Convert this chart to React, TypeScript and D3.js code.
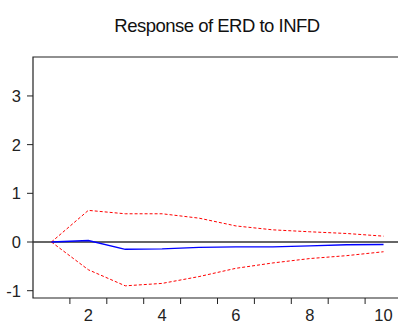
import { useEffect, useRef } from "react";
import * as d3 from "d3";

// periods and impulse response values
const periods = [1, 2, 3, 4, 5, 6, 7, 8, 9, 10];
const response = [0, 0.03, -0.15, -0.14, -0.11, -0.1, -0.1, -0.08, -0.055, -0.05];
const upperBand = [0, 0.65, 0.58, 0.58, 0.49, 0.33, 0.25, 0.21, 0.175, 0.12];
const lowerBand = [0, -0.57, -0.9, -0.85, -0.71, -0.54, -0.43, -0.34, -0.28, -0.2];
const yTicks = [-1, 0, 1, 2, 3];
const xLabels = [2, 4, 6, 8, 10];

const Width = 398;
const Height = 324;

export default function App() {
  const svgRef = useRef(null);

  useEffect(() => {
    const svg = d3.select(svgRef.current);
    svg.selectAll("*").remove();

    const left = 33;
    const top = 57;
    const bottom = 298;
    const bandW = 36.9;

    const xScale = d3
      .scaleBand()
      .domain(periods.map(String))
      .range([left, left + bandW * periods.length]);
    const xc = (p) => xScale(String(p)) + xScale.bandwidth() / 2;

    const yScale = d3.scaleLinear().domain([-1.15, 3.8]).range([bottom, top]);

    const font = "'Liberation Sans', Arial, sans-serif";

    // title
    svg
      .append("text")
      .attr("x", 217)
      .attr("y", 32)
      .attr("text-anchor", "middle")
      .attr("font-family", font)
      .attr("font-size", 18.5)
      .attr("fill", "#111")
      .attr("letter-spacing", -0.5)
      .text("Response of ERD to INFD");

    // frame (top + left), right side is cut off
    svg
      .append("path")
      .attr("d", `M${Width},${top}H${left}V${bottom}H${Width}`)
      .attr("fill", "none")
      .attr("stroke", "#222")
      .attr("stroke-width", 1.2);

    // y axis
    const yAxis = svg.append("g").attr("transform", `translate(${left},0)`);
    yAxis
      .selectAll("line")
      .data(yTicks)
      .join("line")
      .attr("x1", -6)
      .attr("x2", 0)
      .attr("y1", (d) => yScale(d))
      .attr("y2", (d) => yScale(d))
      .attr("stroke", "#222");
    yAxis
      .selectAll("text")
      .data(yTicks)
      .join("text")
      .attr("x", -12)
      .attr("y", (d) => yScale(d) + 6)
      .attr("text-anchor", "end")
      .attr("font-family", font)
      .attr("font-size", 16.5)
      .attr("fill", "#222")
      .text((d) => d);

    // x axis: ticks between periods
    const xAxis = svg.append("g");
    xAxis
      .selectAll("line")
      .data(periods.slice(1))
      .join("line")
      .attr("x1", (d) => xScale(String(d)))
      .attr("x2", (d) => xScale(String(d)))
      .attr("y1", bottom)
      .attr("y2", bottom + 6)
      .attr("stroke", "#222");
    xAxis
      .selectAll("text")
      .data(xLabels)
      .join("text")
      .attr("x", (d) => xc(d))
      .attr("y", bottom + 23)
      .attr("text-anchor", "middle")
      .attr("font-family", font)
      .attr("font-size", 16.5)
      .attr("fill", "#222")
      .text((d) => d);

    // zero line
    svg
      .append("line")
      .attr("x1", left)
      .attr("x2", Width)
      .attr("y1", yScale(0))
      .attr("y2", yScale(0))
      .attr("stroke", "#333")
      .attr("stroke-width", 1.3);

    const line = d3
      .line()
      .x((d, i) => xc(periods[i]))
      .y((d) => yScale(d));

    // confidence bands
    [upperBand, lowerBand].forEach((band) => {
      svg
        .append("path")
        .attr("d", line(band))
        .attr("fill", "none")
        .attr("stroke", "#ff0000")
        .attr("stroke-width", 1)
        .attr("stroke-dasharray", "3,2");
    });

    // response
    svg
      .append("path")
      .attr("d", line(response))
      .attr("fill", "none")
      .attr("stroke", "#0000ff")
      .attr("stroke-width", 1.4);
  }, []);

  return (
    <svg
      ref={svgRef}
      width={Width}
      height={Height}
      style={{ position: "absolute", left: 0, top: 0, background: "#fff" }}
    ></svg>
  );
}
